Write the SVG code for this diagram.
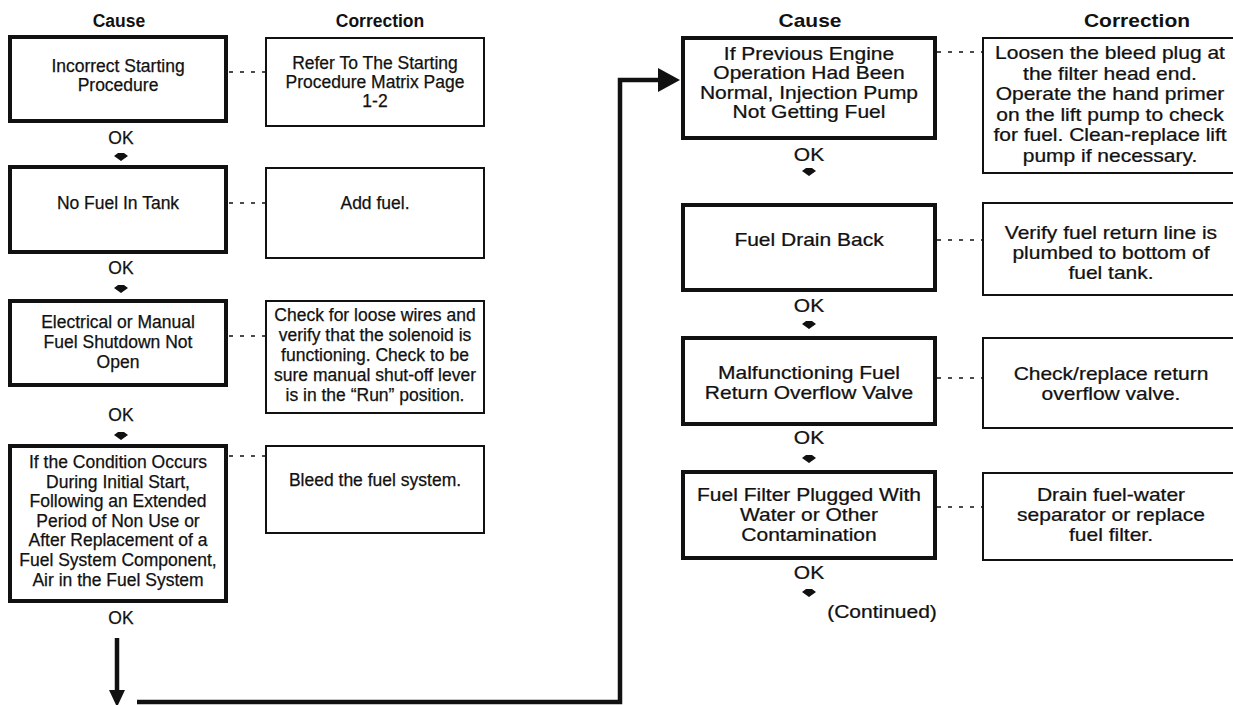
<svg xmlns="http://www.w3.org/2000/svg" width="1233" height="705" viewBox="0 0 1233 705">
<style>
text{font-family:"Liberation Sans",Arial,Helvetica,sans-serif;font-size:17.5px;fill:#111;stroke:#111;stroke-width:0.25;text-anchor:middle}
.h{font-weight:bold;stroke-width:0}
.cause{fill:#fff;stroke:#111;stroke-width:4}
.corr{fill:#fff;stroke:#111;stroke-width:2}
.dot{stroke:#111;stroke-width:1.6;stroke-dasharray:4 7;fill:none}
.thick{stroke:#111;stroke-width:4.5;fill:none}
</style>
<defs>
<path id="sa" d="M-7,-1 L7,-1 L0,4 Z M-3,-4 L3,-4 L7,-1 L-7,-1 Z" fill="#111"/>
</defs>
<g id="headers">
<text class="h" x="119" y="27">Cause</text>
<text class="h" x="380" y="27">Correction</text>
<text class="h" transform="matrix(1.2 0 0 1 810 0)" x="0" y="27">Cause</text>
<text class="h" transform="matrix(1.2 0 0 1 1137 0)" x="0" y="27">Correction</text>
</g>
<g id="connectors">
<line class="dot" x1="229" y1="72" x2="266" y2="72"/>
<line class="dot" x1="229" y1="203" x2="266" y2="203"/>
<line class="dot" x1="229" y1="336" x2="266" y2="336"/>
<line class="dot" x1="229" y1="456" x2="266" y2="456"/>
<line class="dot" x1="937" y1="52" x2="983" y2="52"/>
<line class="dot" x1="937" y1="240" x2="983" y2="240"/>
<line class="dot" x1="937" y1="378" x2="983" y2="378"/>
<line class="dot" x1="937" y1="507" x2="983" y2="507"/>
<use href="#sa" x="121" y="157"/>
<use href="#sa" x="121" y="289"/>
<use href="#sa" x="121" y="436"/>
<use href="#sa" x="809" y="172"/>
<use href="#sa" x="809" y="325"/>
<use href="#sa" x="809" y="459"/>
<use href="#sa" x="809" y="593"/>
<line class="thick" x1="117" y1="638" x2="117" y2="693"/>
<polygon points="109,690 125,690 117,707" fill="#111"/>
<path class="thick" d="M137 702 H620 V80 H662"/>
<polygon points="658,68 680,80 658,92" fill="#111"/>
<g id="ok-labels">
<text x="121" y="144">OK</text>
<text x="121" y="274">OK</text>
<text x="121" y="421">OK</text>
<text x="121" y="624">OK</text>
<text transform="matrix(1.2 0 0 1 809 0)" x="0" y="161">OK</text>
<text transform="matrix(1.2 0 0 1 809 0)" x="0" y="312">OK</text>
<text transform="matrix(1.2 0 0 1 809 0)" x="0" y="444">OK</text>
<text transform="matrix(1.2 0 0 1 809 0)" x="0" y="579">OK</text>
</g>
</g>
<g id="cause1">
<rect class="cause" x="10" y="37" width="216" height="84"/>
<text><tspan x="118" y="72">Incorrect Starting</tspan><tspan x="118" y="91">Procedure</tspan></text>
</g>
<g id="corr1">
<rect class="corr" x="266" y="38" width="218" height="88"/>
<text><tspan x="375" y="69">Refer To The Starting</tspan><tspan x="375" y="88">Procedure Matrix Page</tspan><tspan x="375" y="107">1-2</tspan></text>
</g>
<g id="cause2">
<rect class="cause" x="10" y="167" width="216" height="85"/>
<text><tspan x="118" y="209">No Fuel In Tank</tspan></text>
</g>
<g id="corr2">
<rect class="corr" x="266" y="168" width="218" height="90"/>
<text><tspan x="375" y="209">Add fuel.</tspan></text>
</g>
<g id="cause3">
<rect class="cause" x="10" y="301" width="216" height="84"/>
<text><tspan x="118" y="328">Electrical or Manual</tspan><tspan x="118" y="348">Fuel Shutdown Not</tspan><tspan x="118" y="368">Open</tspan></text>
</g>
<g id="corr3">
<rect class="corr" x="266" y="301" width="218" height="112"/>
<text><tspan x="375" y="321">Check for loose wires and</tspan><tspan x="375" y="341">verify that the solenoid is</tspan><tspan x="375" y="361">functioning. Check to be</tspan><tspan x="375" y="381">sure manual shut-off lever</tspan><tspan x="375" y="401">is in the “Run” position.</tspan></text>
</g>
<g id="cause4">
<rect class="cause" x="10" y="446" width="216" height="155"/>
<text><tspan x="118" y="468">If the Condition Occurs</tspan><tspan x="118" y="488">During Initial Start,</tspan><tspan x="118" y="507">Following an Extended</tspan><tspan x="118" y="527">Period of Non Use or</tspan><tspan x="118" y="546">After Replacement of a</tspan><tspan x="118" y="566">Fuel System Component,</tspan><tspan x="118" y="586">Air in the Fuel System</tspan></text>
</g>
<g id="corr4">
<rect class="corr" x="266" y="446" width="218" height="87"/>
<text><tspan x="375" y="486">Bleed the fuel system.</tspan></text>
</g>
<g id="causeR1">
<rect class="cause" x="683" y="38" width="252" height="100"/>
<text transform="matrix(1.2 0 0 1 809 0)"><tspan x="0" y="60">If Previous Engine</tspan><tspan x="0" y="79">Operation Had Been</tspan><tspan x="0" y="99">Normal, Injection Pump</tspan><tspan x="0" y="118">Not Getting Fuel</tspan></text>
</g>
<g id="corrR1">
<rect class="corr" x="983" y="38" width="262" height="135"/>
<text transform="matrix(1.2 0 0 1 1110 0)"><tspan x="0" y="59">Loosen the bleed plug at</tspan><tspan x="0" y="80">the filter head end.</tspan><tspan x="0" y="100">Operate the hand primer</tspan><tspan x="0" y="121">on the lift pump to check</tspan><tspan x="0" y="141">for fuel. Clean-replace lift</tspan><tspan x="0" y="162">pump if necessary.</tspan></text>
</g>
<g id="causeR2">
<rect class="cause" x="683" y="205" width="252" height="85"/>
<text transform="matrix(1.2 0 0 1 809 0)"><tspan x="0" y="246">Fuel Drain Back</tspan></text>
</g>
<g id="corrR2">
<rect class="corr" x="983" y="203" width="262" height="92"/>
<text transform="matrix(1.2 0 0 1 1111 0)"><tspan x="0" y="239">Verify fuel return line is</tspan><tspan x="0" y="259">plumbed to bottom of</tspan><tspan x="0" y="279">fuel tank.</tspan></text>
</g>
<g id="causeR3">
<rect class="cause" x="683" y="338" width="252" height="86"/>
<text transform="matrix(1.2 0 0 1 809 0)"><tspan x="0" y="379">Malfunctioning Fuel</tspan><tspan x="0" y="399">Return Overflow Valve</tspan></text>
</g>
<g id="corrR3">
<rect class="corr" x="983" y="338" width="262" height="90"/>
<text transform="matrix(1.2 0 0 1 1111 0)"><tspan x="0" y="380">Check/replace return</tspan><tspan x="0" y="400">overflow valve.</tspan></text>
</g>
<g id="causeR4">
<rect class="cause" x="683" y="472" width="252" height="86"/>
<text transform="matrix(1.2 0 0 1 809 0)"><tspan x="0" y="501">Fuel Filter Plugged With</tspan><tspan x="0" y="521">Water or Other</tspan><tspan x="0" y="541">Contamination</tspan></text>
</g>
<g id="corrR4">
<rect class="corr" x="983" y="473" width="262" height="87"/>
<text transform="matrix(1.2 0 0 1 1111 0)"><tspan x="0" y="501">Drain fuel-water</tspan><tspan x="0" y="521">separator or replace</tspan><tspan x="0" y="541">fuel filter.</tspan></text>
</g>
<g id="continued">
<text transform="matrix(1.2 0 0 1 882 0)" x="0" y="618">(Continued)</text>
</g>
</svg>
